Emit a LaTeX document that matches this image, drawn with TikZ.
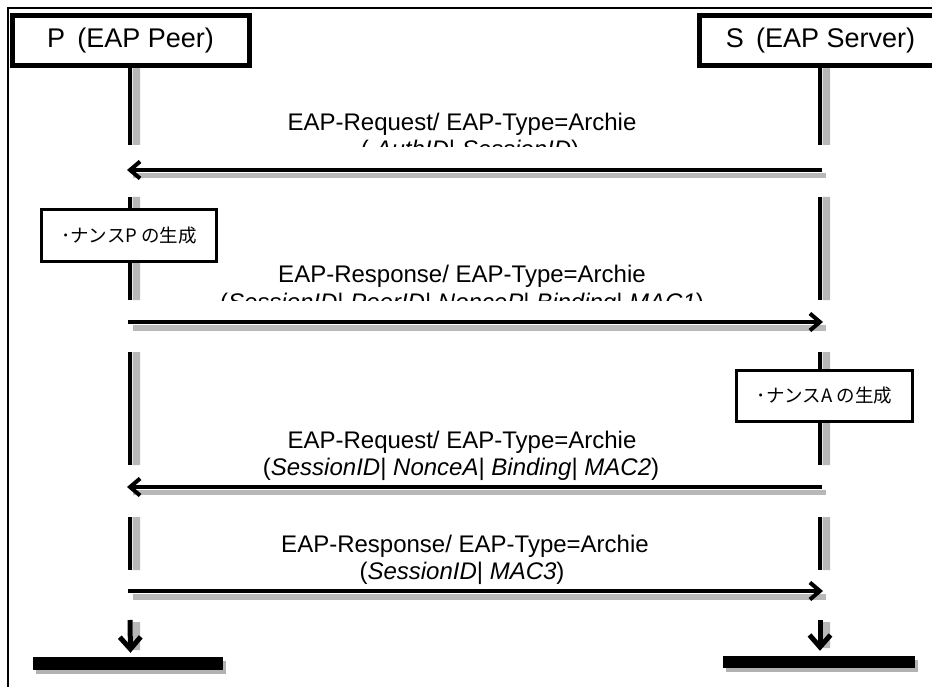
\documentclass[tikz,border=0pt]{standalone}
\usepackage{fontspec}
\setmainfont{Liberation Sans}
\newfontfamily\cjk{Noto Sans CJK JP}
\usetikzlibrary{positioning,arrows.meta,calc,shadows}

\begin{document}
\begin{tikzpicture}[x=1pt,y=-1pt,
  actor/.style={draw,line width=5pt,fill=white,minimum width=237pt,minimum height=50pt,inner sep=0pt,font=\fontsize{27}{30}\selectfont},
  note/.style={draw,line width=3pt,fill=white,minimum width=175pt,minimum height=52pt,inner sep=0pt,font=\cjk\fontsize{18.5}{20}\selectfont},
  life/.style={line width=4.5pt},
  lshade/.style={fill=black!28},
  msg/.style={line width=4pt,-{Straight Barb[length=10pt,width=17pt]}},
  lbl/.style={font=\fontsize{24}{27}\selectfont,anchor=base,inner sep=0pt},
  endbar/.style={fill=black,minimum width=190pt,minimum height=13pt,inner sep=0pt,drop shadow={shadow xshift=3pt,shadow yshift=-4pt,fill=black!30,opacity=1}},
  fin/.style={line width=5pt,-{Straight Barb[length=12pt,width=21pt]}}]
\useasboundingbox (0,0) rectangle (932,687);
\clip (0,0) rectangle (932,687);
% ---- frame ----
\draw[line width=2pt] (7.5,690) -- (7.5,8) -- (935,8);
% ---- lifelines (drawn first, boxes sit on top) ----
\fill[lshade] (132.5,68) rectangle (140,145) (132.5,197) rectangle (140,300)
  (132.5,352) rectangle (140,465) (132.5,517) rectangle (140,570) (132.5,622) rectangle (140,650);
\fill[lshade] (822.5,68) rectangle (830,145) (822.5,197) rectangle (830,300)
  (822.5,352) rectangle (830,465) (822.5,517) rectangle (830,570) (822.5,622) rectangle (830,648);
\draw[life] (130,68) -- (130,145) (130,197) -- (130,300) (130,352) -- (130,465) (130,517) -- (130,570);
\draw[life] (820,68) -- (820,145) (820,197) -- (820,300) (820,352) -- (820,465) (820,517) -- (820,570);
% ---- actors ----
\node[actor] (P) at (130.5,40.5) {P\hspace{0.45em}(EAP Peer)};
\node[actor,minimum width=242pt] (S) at (820.5,40.5) {S\hspace{0.45em}(EAP Server)};
% ---- local steps ----
\node[note] (nP) at (129,235.5) {･ナンスP の生成};
\node[note,minimum width=176pt,minimum height=51pt] (nA) at (824.5,396) {･ナンスA の生成};
% ---- message 1 ----
\coordinate (s1) at (822,170);
\coordinate (p1) at (127,170);
\fill[lshade] (133,173) rectangle (826,178);
\draw[msg] (s1) -- (p1);
\node[lbl] (m1) at (462,131) {EAP-Request/ EAP-Type=Archie};
\begin{scope}
\clip (150,135) rectangle (800,147);
\node[lbl] (m1b) at (470,158) {( \textit{AuthID}| \textit{SessionID})};
\end{scope}
% ---- message 2 ----
\coordinate (p2) at (128,322);
\coordinate (s2) at (823,322);
\fill[lshade] (133,325) rectangle (826,331);
\draw[msg] (p2) -- (s2);
\node[lbl] (m2) at (462,283) {EAP-Response/ EAP-Type=Archie};
\begin{scope}
\clip (150,288) rectangle (800,300);
\node[lbl] (m2b) at (462,310) {(\textit{SessionID}| \textit{PeerID}| \textit{NonceP}| \textit{Binding}| \textit{MAC1})};
\end{scope}
% ---- message 3 ----
\coordinate (s3) at (822,487);
\coordinate (p3) at (127,487);
\fill[lshade] (133,490) rectangle (826,495);
\draw[msg] (s3) -- (p3);
\node[lbl] (m3) at (462,448) {EAP-Request/ EAP-Type=Archie};
\node[lbl] (m3b) at (461,475) {(\textit{SessionID}| \textit{NonceA}| \textit{Binding}| \textit{MAC2})};
% ---- message 4 ----
\coordinate (p4) at (128,591);
\coordinate (s4) at (823,591);
\fill[lshade] (133,594) rectangle (826,600);
\draw[msg] (p4) -- (s4);
\node[lbl] (m4) at (465,552) {EAP-Response/ EAP-Type=Archie};
\node[lbl] (m4b) at (462,579) {(\textit{SessionID}| \textit{MAC3})};
% ---- ends ----
\node[endbar] (Pend) at (128,663.5) {};
\node[endbar,minimum width=192pt,minimum height=12pt] (Send) at (819,662) {};
\draw[fin] (130,620) -- ([yshift=4pt]Pend.north -| P);
\draw[fin] (820,620) -- ([yshift=5pt]Send.north -| 820,0);
\end{tikzpicture}
\end{document}
